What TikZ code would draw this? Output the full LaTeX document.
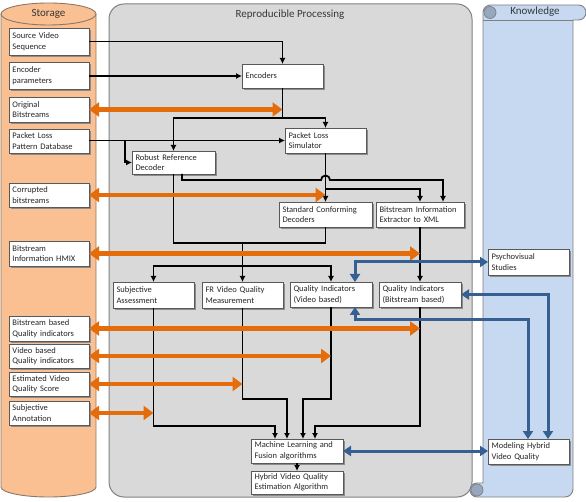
\documentclass[tikz,border=0pt]{standalone}
\usepackage{fontspec}
\setmainfont{Carlito}
\usetikzlibrary{arrows.meta,shadows,calc}
\definecolor{storfill}{RGB}{250,192,146}
\definecolor{stordraw}{RGB}{140,120,105}
\definecolor{procfill}{RGB}{217,217,217}
\definecolor{procdraw}{RGB}{128,128,128}
\definecolor{knowfill}{RGB}{198,217,241}
\definecolor{knowcurl}{RGB}{150,168,192}
\definecolor{orangeA}{RGB}{228,108,10}
\definecolor{blueA}{RGB}{55,96,146}
\definecolor{titlec}{RGB}{55,55,55}
\tikzset{
  box/.style={draw=black!65, line width=0.8pt, fill=white, inner xsep=3.5pt, inner ysep=0pt, outer sep=0pt,
    align=left, font=\fontsize{8.5}{10.5}\selectfont, text=black!85,
    drop shadow={shadow xshift=1.8pt, shadow yshift=-1.8pt, fill=black!45, opacity=1}},
  conn/.style={line width=1.8pt, -{Latex[length=6pt,width=6pt]}},
  plain/.style={line width=1.8pt},
  oarr/.style={draw=orangeA, line width=4.5pt, {Triangle[length=10pt,width=14pt]}-{Triangle[length=10pt,width=14pt]}},
  barr/.style={draw=blueA, line width=3pt, {Triangle[length=8pt,width=10pt]}-{Triangle[length=8pt,width=10pt]}},
  ttl/.style={font=\fontsize{11}{13}\selectfont, text=titlec}
}
\newcommand\bx[6]{%
  \pgfmathsetmacro\bw{#4-#2}\pgfmathsetmacro\bh{#5-#3}\pgfmathsetmacro\tw{#4-#2-7}%
  \node[box, minimum width=\bw pt, minimum height=\bh pt, text width=\tw pt] (#1) at ({(#2+#4)/2},{(#3+#5)/2}) {#6};}
\begin{document}
\begin{tikzpicture}[x=1pt,y=-1pt]
\useasboundingbox (0,0) rectangle (586,502);
% Storage cylinder
\filldraw[fill=storfill, draw=stordraw, line width=0.9pt]
  (1,14) -- (1,487) arc[start angle=180, end angle=0, x radius=47.5, y radius=10] -- (96,14) -- cycle;
\filldraw[fill=storfill, draw=stordraw, line width=0.9pt] (48.5,14) ellipse [x radius=47.5, y radius=11];
\node[ttl] (tstor) at (48.5,14) {Storage};
% Processing
\filldraw[fill=procfill, draw=procdraw, line width=1pt, rounded corners=15pt] (109,4) rectangle (472,497);
\node[ttl] (tproc) at (290,15) {Reproducible Processing};
% Knowledge scroll
\filldraw[fill=knowfill, draw=procdraw, line width=0.9pt]
  (490,5) -- (578.5,5) arc[start angle=270, end angle=450, radius=7.5] -- (573,20) -- (573,489)
  arc[start angle=0, end angle=90, radius=8] -- (477,497)
  arc[start angle=90, end angle=270, radius=7] -- (483,483) -- (483,12.5)
  arc[start angle=180, end angle=270, radius=7.5] -- cycle;
\filldraw[fill=knowcurl, draw=procdraw, line width=0.7pt] (490,12.5) circle[radius=6];
\draw[procdraw, line width=0.7pt] (483,20) -- (573,20);
\filldraw[fill=knowcurl, draw=procdraw, line width=0.7pt] (477,490) circle[radius=6];
\node[ttl] (tknow) at (535,12) {Knowledge};
% Storage boxes
\bx{src}{9}{28}{89}{55}{Source Video\\Sequence}
\bx{encp}{9}{62}{89}{89}{Encoder\\parameters}
\bx{ob}{9}{97}{89}{122}{Original\\Bitstreams}
\bx{plp}{9}{129}{89}{153}{Packet Loss\\Pattern Database}
\bx{cb}{9}{183}{89}{207}{Corrupted\\bitstreams}
\bx{hmix}{9}{241}{89}{266}{Bitstream\\Information HMIX}
\bx{bqi}{9}{316}{89}{341}{Bitstream based\\Quality indicators}
\bx{vqi}{9}{344}{89}{368}{Video based\\Quality indicators}
\bx{evq}{9}{372}{89}{396}{Estimated Video\\Quality Score}
\bx{sann}{9}{401}{89}{425}{Subjective\\Annotation}
% Processing boxes
\bx{enc}{242}{64}{323}{88}{Encoders}
\bx{pls}{285}{128}{366}{153}{Packet Loss\\Simulator}
\bx{rrd}{132}{151}{215}{174}{Robust Reference\\Decoder}
\bx{scd}{279}{202}{372}{227}{Standard Conforming\\Decoders}
\bx{bie}{376}{202}{464}{227}{Bitstream Information\\Extractor to XML}
\bx{sa}{113}{282}{194}{308}{Subjective\\Assessment}
\bx{fr}{202}{282}{283}{308}{FR Video Quality\\Measurement}
\bx{qiv}{290}{282}{372}{307}{Quality Indicators\\(Video based)}
\bx{qib}{379}{282}{461}{307}{Quality Indicators\\(Bitstream based)}
\bx{ml}{251}{439}{343}{463}{Machine Learning and\\Fusion algorithms}
\bx{hv}{251}{471}{343}{494}{Hybrid Video Quality\\Estimation Algorithm}
% Knowledge boxes
\bx{psy}{488}{249}{569}{275}{Psychovisual\\Studies}
\bx{mhv}{488}{439}{569}{464}{Modeling Hybrid\\Video Quality}
% black connectors
\draw[conn] (src.east) -| (enc.north);
\draw[conn] (encp.east |- enc.west) -- (enc.west);
\coordinate (j1) at (282.5,118);
\draw[conn] (enc.south) -- (j1) -| (rrd.north);
\draw[conn] (j1) -| (pls.north);
\draw[conn] (plp.east |- pls.west) -- (pls.west);
\coordinate (j2) at (125,140.5);
\draw[conn] (j2) |- (rrd.west);
\draw[conn] (rrd.south -| 182,0) -- (182,180) -- (321,180) arc[start angle=180, end angle=360, radius=4.5] -- (443,180) -- (bie.north -| 443,0);
\draw[conn] (pls.south) -- (scd.north);
\coordinate (j3) at (325.5,189);
\draw[conn] (j3) -| (bie.north);
\coordinate (m1) at (242.5,243);
\draw[plain] (rrd.south) |- (m1) -| (scd.south);
\draw[conn] (m1) -- (fr.north);
\coordinate (m2) at (242.5,266);
\draw[conn] (m2) -| (sa.north);
\draw[conn] (m2) -| (qiv.north);
\draw[conn] (bie.south) -- (qib.north);
\draw[conn] (sa.south) |- (275,426) -- (ml.north -| 275,0);
\draw[conn] (fr.south) |- (287,399) -- (ml.north -| 287,0);
\draw[conn] (qiv.south) |- (303,399) -- (ml.north -| 303,0);
\draw[conn] (qib.south) |- (315,426) -- (ml.north -| 315,0);
\draw[conn] (ml.south) -- (hv.north);
% orange arrows
\draw[oarr] (ob.east) -- (ob.east -| enc.south);
\draw[oarr] (cb.east) -- (cb.east -| pls.south);
\draw[oarr] (hmix.east) -- (hmix.east -| bie.south);
\draw[oarr] (bqi.east) -- (bqi.east -| qib.south);
\draw[oarr] (vqi.east) -- (vqi.east -| qiv.south);
\draw[oarr] (evq.east) -- (evq.east -| fr.south);
\draw[oarr] (sann.east) -- (sann.east -| sa.south);
% blue arrows
\draw[barr] (psy.west) -| (qiv.north -| 355,0);
\draw[barr] (qib.east) -| (mhv.north -| 548,0);
\draw[barr] (qiv.south -| 355,0) |- (528,320) -- (mhv.north -| 528,0);
\draw[barr] (ml.east) -- (ml.east -| mhv.west);
\end{tikzpicture}
\end{document}
